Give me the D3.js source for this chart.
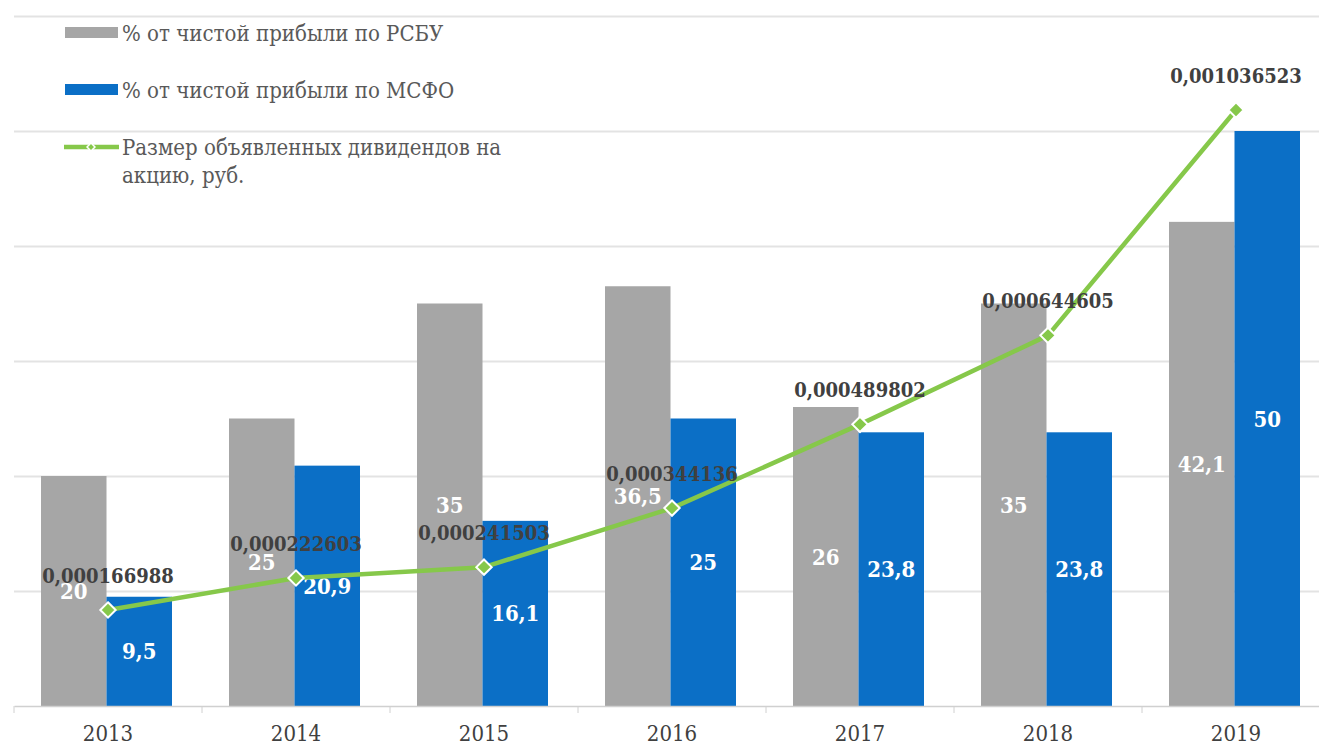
<!DOCTYPE html>
<html>
<head>
<meta charset="utf-8">
<script src="https://cdn.jsdelivr.net/npm/d3@7"></script>
<style>
    body { margin: 0; background: #fff; }
    svg { display: block; }
</style>
</head>
<body>
<svg id="chart" width="1319" height="745"></svg>
<script>
// chart data
const years = ['2013', '2014', '2015', '2016', '2017', '2018', '2019']
const rsbuValues = [20, 25, 35, 36.5, 26, 35, 42.1]
const msfoValues = [9.5, 20.9, 16.1, 25, 23.8, 23.8, 50]
const dividendValues = [0.000166988, 0.000222603, 0.000241503, 0.000344136, 0.000489802, 0.000644605, 0.001036523]
const yTicks = [0, 10, 20, 30, 40, 50, 60]

const legendItems = [
    { type: 'bar', color: '#a6a6a6', lines: ['% от чистой прибыли по РСБУ'] },
    { type: 'bar', color: '#0b6fc6', lines: ['% от чистой прибыли по МСФО'] },
    { type: 'line', color: '#86c84a', lines: ['Размер объявленных дивидендов на', 'акцию, руб.'] }
]

const FONT = '"DejaVu Serif Condensed", "DejaVu Serif", serif'
const svg = d3.select('#chart')
const width = 1319
const baseY = 706
const topY = 16

let x = d3.scaleBand()
    .domain(years)
    .range([14, 1330])
    .paddingInner(0)
    .paddingOuter(0)

let x1 = d3.scaleBand()
    .domain(['rsbu', 'msfo'])
    .range([27, 158])

let y = d3.scaleLinear().domain([0, 60]).range([baseY, topY])
let y2 = d3.scaleLinear().domain([0, 0.0012]).range([baseY, topY])

const fmt = v => String(v).replace('.', ',')
const fmtDiv = v => v.toFixed(9).replace('.', ',')

// gridlines
svg.append('g')
    .selectAll('line')
    .data(yTicks.slice(1))
    .join('line')
    .attr('x1', 14)
    .attr('x2', width)
    .attr('y1', d => y(d) + 0.5)
    .attr('y2', d => y(d) + 0.5)
    .attr('stroke', '#e3e3e3')
    .attr('stroke-width', 2)

// bars
let groups = svg.append('g')
    .selectAll('g')
    .data(years)
    .join('g')
    .attr('transform', d => `translate(${x(d)},0)`)

groups.append('rect')
    .attr('x', x1('rsbu'))
    .attr('width', x1.bandwidth())
    .attr('y', (d, i) => y(rsbuValues[i]))
    .attr('height', (d, i) => baseY - y(rsbuValues[i]))
    .attr('fill', '#a6a6a6')

groups.append('rect')
    .attr('x', x1('msfo'))
    .attr('width', x1.bandwidth())
    .attr('y', (d, i) => y(msfoValues[i]))
    .attr('height', (d, i) => baseY - y(msfoValues[i]))
    .attr('fill', '#0b6fc6')

// bar labels, centred in the bars
groups.append('text')
    .attr('x', x1('rsbu') + x1.bandwidth() / 2)
    .attr('y', (d, i) => (y(rsbuValues[i]) + baseY) / 2 + 8)
    .attr('text-anchor', 'middle')
    .attr('fill', '#ffffff')
    .attr('font-family', FONT)
    .attr('font-stretch', 'condensed')
    .attr('font-size', 22)
    .attr('font-weight', 'bold')
    .text((d, i) => fmt(rsbuValues[i]))

groups.append('text')
    .attr('x', x1('msfo') + x1.bandwidth() / 2)
    .attr('y', (d, i) => (y(msfoValues[i]) + baseY) / 2 + 8)
    .attr('text-anchor', 'middle')
    .attr('fill', '#ffffff')
    .attr('font-family', FONT)
    .attr('font-stretch', 'condensed')
    .attr('font-size', 22)
    .attr('font-weight', 'bold')
    .text((d, i) => fmt(msfoValues[i]))

// x axis
let xAxis = d3.axisBottom(x).tickSize(0).tickPadding(19)
let axisG = svg.append('g')
    .attr('transform', `translate(0,${baseY})`)
    .call(xAxis)
axisG.attr('font-family', FONT).attr('font-size', 22).attr('font-stretch', 'condensed')
axisG.select('.domain').attr('stroke', '#d0d0d0').attr('stroke-width', 1.5)
axisG.selectAll('text').attr('fill', '#404040')
axisG.selectAll('.sep')
    .data(years)
    .join('line')
    .attr('class', 'sep')
    .attr('x1', d => x(d))
    .attr('x2', d => x(d))
    .attr('y1', 0)
    .attr('y2', 7)
    .attr('stroke', '#d0d0d0')

// dividends line
const cx = d => x(d) + x.bandwidth() / 2
let line = d3.line()
    .x((d, i) => cx(years[i]))
    .y(d => y2(d))

svg.append('path')
    .datum(dividendValues)
    .attr('d', line)
    .attr('fill', 'none')
    .attr('stroke', '#86c84a')
    .attr('stroke-width', 4.5)
    .attr('stroke-linejoin', 'round')

svg.append('g')
    .selectAll('path')
    .data(dividendValues)
    .join('path')
    .attr('d', d3.symbol(d3.symbolDiamond2, 150))
    .attr('transform', (d, i) => `translate(${cx(years[i])},${y2(d)})`)
    .attr('fill', '#86c84a')
    .attr('stroke', '#ffffff')
    .attr('stroke-width', 2)

svg.append('g')
    .selectAll('text')
    .data(dividendValues)
    .join('text')
    .attr('x', (d, i) => cx(years[i]))
    .attr('y', d => y2(d) - 27)
    .attr('text-anchor', 'middle')
    .attr('fill', '#404040')
    .attr('font-family', FONT)
    .attr('font-stretch', 'condensed')
    .attr('font-size', 20)
    .attr('font-weight', 'bold')
    .text(d => fmtDiv(d))

// legend
let legend = svg.append('g')
let rowY = [33, 90, 147]
legendItems.forEach((item, i) => {
    let g = legend.append('g').attr('transform', `translate(0,${rowY[i]})`)
    if (item.type == 'bar') {
        g.append('rect')
            .attr('x', 65)
            .attr('y', -6)
            .attr('width', 53)
            .attr('height', 11)
            .attr('fill', item.color)
    }
    else {
        g.append('line')
            .attr('x1', 64)
            .attr('x2', 119)
            .attr('y1', 0)
            .attr('y2', 0)
            .attr('stroke', item.color)
            .attr('stroke-width', 4.5)
        g.append('path')
            .attr('d', d3.symbol(d3.symbolDiamond2, 40))
            .attr('transform', 'translate(91,0)')
            .attr('fill', item.color)
            .attr('stroke', '#ffffff')
            .attr('stroke-width', 1.5)
    }
    item.lines.forEach((t, j) => {
        g.append('text')
            .attr('x', 122)
            .attr('y', 8 + j * 28)
            .attr('fill', '#595959')
            .attr('font-family', FONT)
            .attr('font-stretch', 'condensed')
            .attr('font-size', 22)
            .text(t)
    })
})
</script>
</body>
</html>
